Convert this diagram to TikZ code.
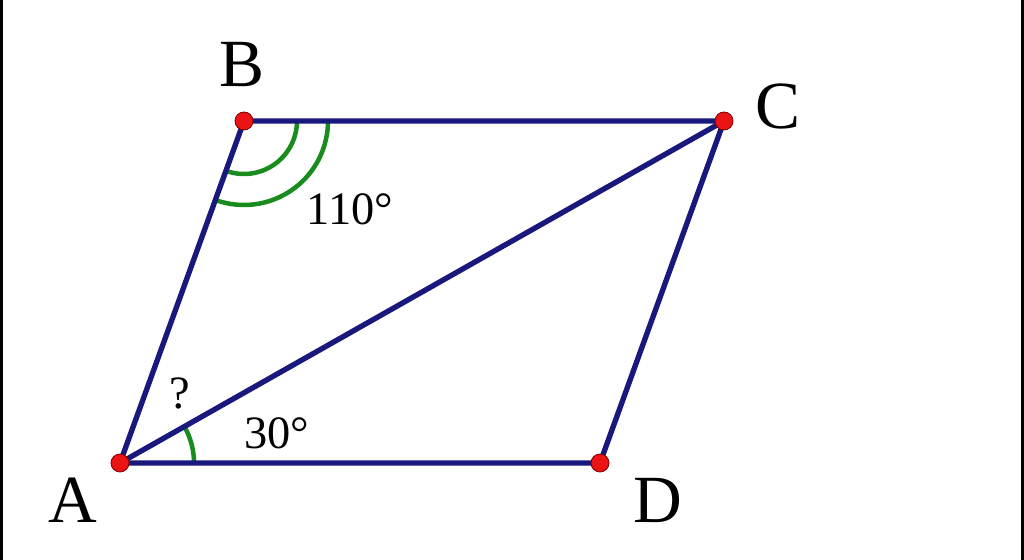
\documentclass[tikz,border=0pt]{standalone}
\usepackage{fontspec}
\setmainfont{Liberation Serif}
\definecolor{edgeblue}{RGB}{25,25,125}
\definecolor{anglegreen}{RGB}{25,140,30}
\definecolor{dotred}{RGB}{235,20,20}
\tikzset{
	side/.style={edgeblue, line width=3.8pt, line cap=round},
	anglearc/.style={anglegreen, line width=3.2pt},
	vertex/.style={circle, fill=dotred, draw=red!50!black, line width=0.6pt, inner sep=0pt, minimum size=0.45cm},
	letter/.style={font=\fontsize{48}{50}\selectfont},
	measure/.style={font=\fontsize{33}{35}\selectfont}
}
\begin{document}
	\begin{tikzpicture}
		\useasboundingbox (0,0) rectangle (25.6,14);
		\fill (0,0) rectangle (0.075,14);
		\fill (25.525,0) rectangle (25.6,14);

		\coordinate (A) at (3,2.425);
		\coordinate (B) at (6.1,10.975);
		\coordinate (C) at (18.1,10.975);
		\coordinate (D) at (15,2.425);

		\draw[anglearc] ([shift={(0:1.85)}]A) arc (0:29.5:1.85);
		\foreach \r in {1.325,2.1}
		{
			\draw[anglearc] ([shift={(250.07:\r)}]B) arc (250.07:360:\r);
		}

		\draw[side] (A) -- (B) -- (C) -- (D) -- (A);
		\draw[side] (A) -- (C);

		\foreach \p in {A,B,C,D}
		{
			\node[vertex] (dot\p) at (\p) {};
		}

		\node[letter] (labA) at (1.81,1.5) {A};
		\node[letter] (labB) at (6.06,12.375) {B};
		\node[letter] (labC) at (19.45,11.35) {C};
		\node[letter] (labD) at (16.44,1.5) {D};

		\node[measure] (angB) at (8.75,8.775) {110°};
		\node[measure] (angA) at (6.925,3.175) {30°};
		\node[measure] (ask) at (4.5,4.175) {?};
	\end{tikzpicture}
\end{document}
